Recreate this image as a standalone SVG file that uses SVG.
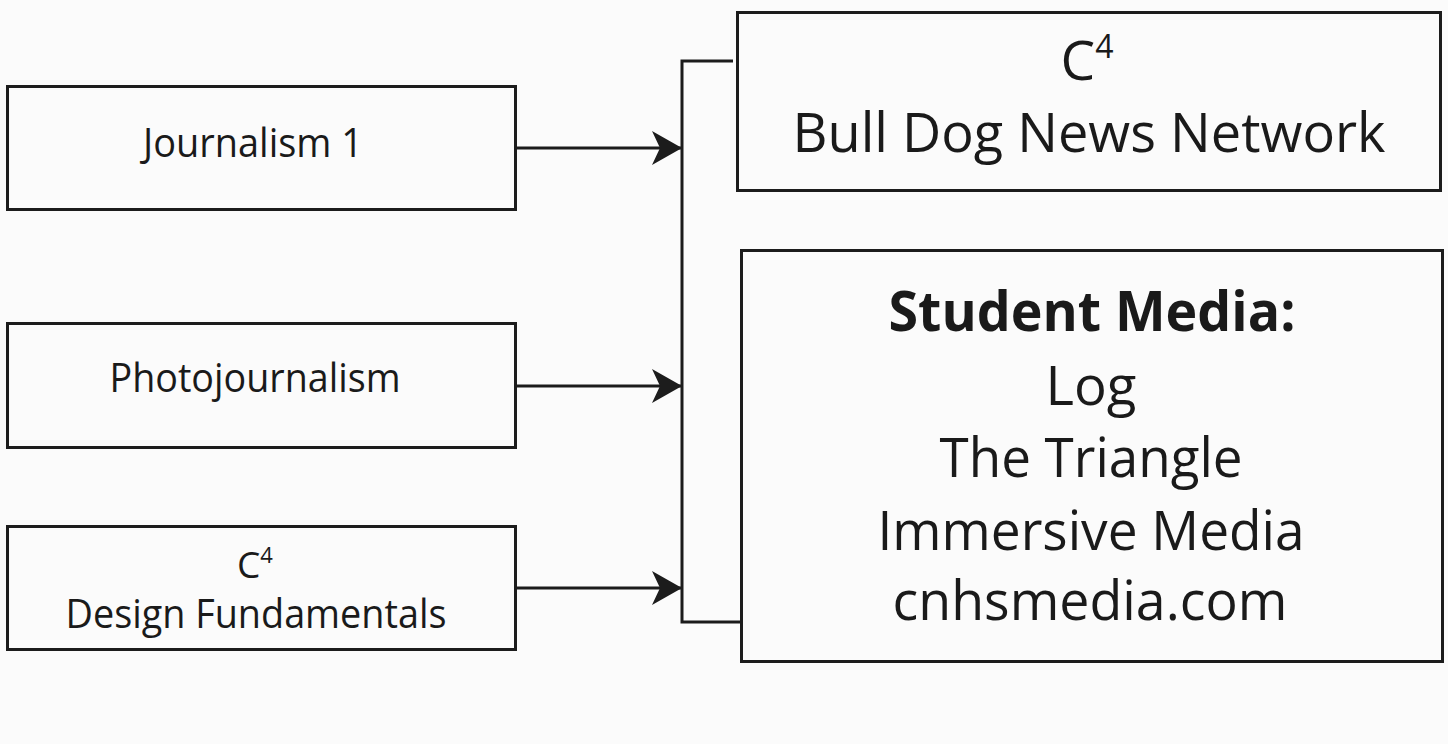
<svg xmlns="http://www.w3.org/2000/svg" width="1448" height="744" viewBox="0 0 1448 744">
<defs>
<style>
.box{fill:#fbfbfb;stroke:#1c1c1c;stroke-width:3}
.t{font-family:"Open Sans","Noto Sans",sans-serif;fill:#1a1a1a;text-anchor:middle}
.s{font-size:41px}
.l{font-size:55px}
.b{font-weight:bold}
.conn{fill:none;stroke:#1c1c1c;stroke-width:3}
</style>
<marker id="arr" viewBox="0 0 30 34" refX="29" refY="17" markerWidth="30" markerHeight="34" markerUnits="userSpaceOnUse" orient="auto">
<path d="M0,0 L30,17 L0,34 L8,17 Z" fill="#1c1c1c"/>
</marker>
</defs>
<rect width="1448" height="744" fill="#fbfbfb"/>
<g id="connectors">
<path class="conn" d="M733,61 H682 V622 H741"/>
<line class="conn" x1="516" y1="148" x2="681" y2="148" marker-end="url(#arr)"/>
<line class="conn" x1="516" y1="386" x2="681" y2="386" marker-end="url(#arr)"/>
<line class="conn" x1="516" y1="588" x2="681" y2="588" marker-end="url(#arr)"/>
</g>
<g id="journalism1">
<rect class="box" x="7.5" y="86.5" width="508" height="123"/>
<text class="t s" x="253" y="157" textLength="220" lengthAdjust="spacingAndGlyphs">Journalism 1</text>
</g>
<g id="photojournalism">
<rect class="box" x="7.5" y="323.5" width="508" height="124"/>
<text class="t s" x="255" y="392" textLength="291" lengthAdjust="spacingAndGlyphs">Photojournalism</text>
</g>
<g id="design">
<rect class="box" x="7.5" y="526.5" width="508" height="123"/>
<text class="t" font-size="37" x="255" y="578">C<tspan font-size="22" dy="-15">4</tspan></text>
<text class="t s" x="256" y="628" textLength="381" lengthAdjust="spacingAndGlyphs">Design Fundamentals</text>
</g>
<g id="bdnn">
<rect class="box" x="737.5" y="12.5" width="703" height="178"/>
<text class="t l" x="1087" y="80">C<tspan font-size="32" dy="-22">4</tspan></text>
<text class="t l" x="1089" y="152" textLength="593" lengthAdjust="spacingAndGlyphs">Bull Dog News Network</text>
</g>
<g id="studentmedia">
<rect class="box" x="741.5" y="250.5" width="701" height="411"/>
<text class="t l b" x="1092" y="331" textLength="407" lengthAdjust="spacingAndGlyphs">Student Media:</text>
<text class="t l" x="1091" y="405" textLength="91" lengthAdjust="spacingAndGlyphs">Log</text>
<text class="t l" x="1091" y="477" textLength="303" lengthAdjust="spacingAndGlyphs">The Triangle</text>
<text class="t l" x="1091" y="550" textLength="427" lengthAdjust="spacingAndGlyphs">Immersive Media</text>
<text class="t l" x="1090" y="620" textLength="395" lengthAdjust="spacingAndGlyphs">cnhsmedia.com</text>
</g>
</svg>
